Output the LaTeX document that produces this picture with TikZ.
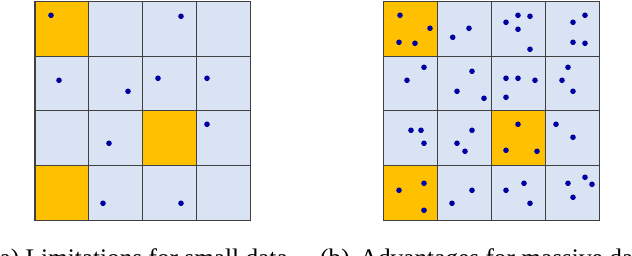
\documentclass[tikz,border=0pt]{standalone}
\usepackage{fontspec}
\setmainfont{Liberation Serif}
\definecolor{cellblue}{RGB}{218,227,243}
\definecolor{cellgold}{RGB}{255,192,0}
\definecolor{dotblue}{RGB}{0,0,160}
\definecolor{gridgray}{RGB}{64,64,64}

\begin{document}
\begin{tikzpicture}[x=1pt,y=-1pt,
    cell/.style={fill=cellblue,draw=gridgray,line width=1.1pt},
    hot/.style={cell,fill=cellgold},
    pt/.style={fill=dotblue},
    captext/.style={anchor=base west,inner sep=0pt,font=\fontsize{25.3}{30}\selectfont}]
  \useasboundingbox (0,0) rectangle (632,256);

  % left grid: few samples
  \foreach \c in {0,...,3}
    \foreach \r in {0,...,3}
      \draw[cell] ({35+53.8*\c},{1.5+54.7*\r}) rectangle ++(53.8,54.7);
  \foreach \c/\r in {0/0,2/2,0/3}
    \draw[hot] ({35+53.8*\c},{1.5+54.7*\r}) rectangle ++(53.8,54.7);
  \foreach \p in {(51,15.3),(181,16.3),(59,80.3),(128,91.3),(158,78.3),
                  (207,78.3),(207,124.3),(109,143.3),(103,203.3),(181,203.3)}
    \fill[pt] \p circle (2.8pt);

  % right grid: many samples
  \foreach \c in {0,...,3}
    \foreach \r in {0,...,3}
      \draw[cell] ({383.3+54*\c},{1.5+54.7*\r}) rectangle ++(54,54.7);
  \foreach \c/\r in {0/0,2/2,0/3}
    \draw[hot] ({383.3+54*\c},{1.5+54.7*\r}) rectangle ++(54,54.7);
  \foreach \p in {(400,15.3),(430,28.3),(399,42.3),(415,43.3),(452.7,37.3),
                  (469,28.3),(506,22.3),(518,15.3),(530,16.3),(518,29.3),
                  (530,49.3),(573,22.3),(585,15.3),(573,42.3),(585,43.3),
                  (424,67.3),(407,80.3),(472,71.3),(457,91.3),(484,98.3),
                  (506,78.3),(518,78.3),(535,80.3),(506,97.3),(568,67.3),
                  (562,80.3),(573,91.3),
                  (411,130.3),(421,130.3),(424,143.3),(472,130.3),(457,143.3),
                  (465,151.3),(518,124.3),(506,150.3),(537,151.3),(556,124.3),
                  (573,137.3),
                  (424,183.3),(399,190.3),(424,210.3),(472,190.3),(452,203.3),
                  (506,190.3),(524,183.3),(530,203.3),(568,183.3),(585,177.3),
                  (592,184.3),(573,197.3)}
    \fill[pt] \p circle (2.8pt);

  \node[captext] (capA) at (-9,266.7) {(a) Limitations for small data};
  \node[captext] (capB) at (320,266.7) {(b)\hspace{0.4em}Advantages for massive data};
\end{tikzpicture}
\end{document}
